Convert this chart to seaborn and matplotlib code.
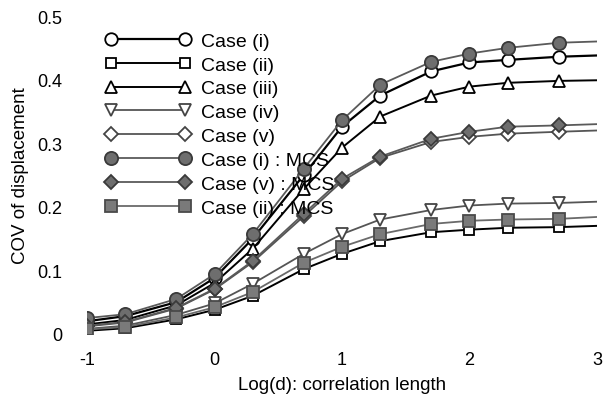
import matplotlib
matplotlib.use("Agg")
import matplotlib.pyplot as plt
from matplotlib.lines import Line2D
import seaborn as sns
import pandas as pd

log_d = [-1, -0.7, -0.3, 0, 0.3, 0.7, 1, 1.3, 1.7, 2, 2.3, 2.7, 3]

case_i = [0.020, 0.028, 0.050, 0.088, 0.150, 0.250, 0.326, 0.375, 0.413, 0.427, 0.431, 0.436, 0.438]
case_ii = [0.005, 0.009, 0.023, 0.038, 0.060, 0.102, 0.126, 0.146, 0.160, 0.164, 0.167, 0.168, 0.170]
case_iii = [0.015, 0.022, 0.045, 0.080, 0.134, 0.228, 0.293, 0.342, 0.375, 0.389, 0.395, 0.398, 0.399]
case_iv = [0.008, 0.013, 0.030, 0.048, 0.079, 0.126, 0.157, 0.180, 0.195, 0.202, 0.205, 0.206, 0.208]
case_v = [0.012, 0.018, 0.040, 0.070, 0.113, 0.185, 0.240, 0.277, 0.302, 0.310, 0.315, 0.318, 0.320]
case_i_mcs = [0.025, 0.031, 0.055, 0.094, 0.157, 0.260, 0.336, 0.392, 0.428, 0.441, 0.450, 0.458, 0.460]
case_v_mcs = [0.013, 0.019, 0.041, 0.071, 0.115, 0.189, 0.244, 0.279, 0.307, 0.318, 0.326, 0.328, 0.330]
case_ii_mcs = [0.007, 0.011, 0.026, 0.042, 0.066, 0.112, 0.137, 0.157, 0.173, 0.178, 0.180, 0.181, 0.184]

labels = ["Case (i)", "Case (ii)", "Case (iii)", "Case (iv)", "Case (v)",
          "Case (i) : MCS", "Case (v) : MCS", "Case (ii) : MCS"]
series = [case_i, case_ii, case_iii, case_iv, case_v, case_i_mcs, case_v_mcs, case_ii_mcs]

# style: (marker, markersize, facecolor, edgecolor, linecolor, linewidth)
styles = [
    ("o", 9, "white", "black", "black", 1.6),
    ("s", 7.5, "white", "black", "black", 1.4),
    ("^", 9, "white", "black", "black", 1.4),
    ("v", 9, "white", "#444444", "#555555", 1.3),
    ("D", 7, "white", "#444444", "#555555", 1.3),
    ("o", 9.5, "#6e6e6e", "#3a3a3a", "#5a5a5a", 1.3),
    ("D", 7.5, "#6e6e6e", "#3a3a3a", "#5a5a5a", 1.3),
    ("s", 8.5, "#7a7a7a", "#4a4a4a", "#6a6a6a", 1.3),
]

sns.set_style("white")
plt.rcParams["font.family"] = ["Liberation Sans", "DejaVu Sans"]
plt.rcParams["text.color"] = "black"
plt.rcParams["axes.labelcolor"] = "black"
plt.rcParams["xtick.color"] = "black"
plt.rcParams["ytick.color"] = "black"

fig = plt.figure(figsize=(6.06, 4.06), dpi=100)
ax = fig.add_axes([0.1436, 0.175, 0.8415, 0.783])

handles = []
for lab, vals, (mk, ms, fc, ec, lc, lw) in zip(labels, series, styles):
    df = pd.DataFrame({"x": log_d, "y": vals})
    sns.lineplot(data=df, x="x", y="y", ax=ax, color=lc, linewidth=lw,
                 marker=mk, markersize=ms, markerfacecolor=fc,
                 markeredgecolor=ec, markeredgewidth=1.3,
                 markevery=list(range(len(log_d) - 1)), legend=False)
    handles.append(Line2D([0], [0], color=lc, linewidth=lw, marker=mk,
                          markersize=ms, markerfacecolor=fc,
                          markeredgecolor=ec, markeredgewidth=1.3, label=lab))

ax.set_xlim(-1, 3)
ax.set_ylim(0, 0.5)
ax.set_xticks([-1, 0, 1, 2, 3])
ax.set_xticklabels(["-1", "0", "1", "2", "3"])
ax.set_yticks([0, 0.1, 0.2, 0.3, 0.4, 0.5])
ax.set_yticklabels(["0", "0.1", "0.2", "0.3", "0.4", "0.5"])
ax.tick_params(axis="x", length=0, pad=12, labelsize=13)
ax.tick_params(axis="y", length=0, pad=18, labelsize=13)
for s in ax.spines.values():
    s.set_visible(False)
ax.set_xlabel("Log(d): correlation length", fontsize=13.5, labelpad=6)
ax.set_ylabel("COV of displacement", fontsize=13.5, labelpad=6)

leg = ax.legend(handles=handles, loc="upper left", bbox_to_anchor=(0.02, 0.974),
                frameon=False, fontsize=14, numpoints=2, handlelength=4.4,
                handletextpad=0.55, labelspacing=0.32, borderaxespad=0.0)

fig.savefig("out.png", dpi=100)
